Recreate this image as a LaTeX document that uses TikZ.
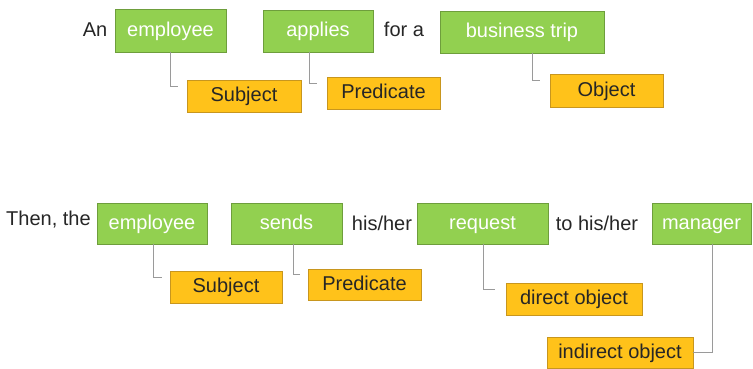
\documentclass[tikz,border=0pt]{standalone}
\usepackage{fontspec}
\setmainfont{Liberation Sans}
\usetikzlibrary{shadows}
\definecolor{gfill}{HTML}{92D050}
\definecolor{gline}{HTML}{6E9E3C}
\definecolor{ofill}{HTML}{FFC21A}
\definecolor{oline}{HTML}{C8961E}
\definecolor{cline}{HTML}{9A9A9A}
\begin{document}
\begin{tikzpicture}[x=1pt,y=-1pt,
  box/.style={draw, line width=0.8pt, inner sep=0pt, font=\fontsize{20}{24}\selectfont,
    text height=13pt, text depth=1.5pt,
    drop shadow={shadow xshift=1.2pt, shadow yshift=-1.2pt, opacity=0.25}},
  gbox/.style={box, fill=gfill, draw=gline, text=white},
  obox/.style={box, fill=ofill, draw=oline, text=black!85},
  word/.style={inner sep=0pt, font=\fontsize{20}{24}\selectfont, text=black!85,
    text height=13pt, text depth=1.5pt},
  conn/.style={draw=cline, line width=0.9pt}]
\useasboundingbox (0,0) rectangle (753,369);
% top row
\node[word] (an) at (95,31) {An};
\node[gbox, minimum width=111pt, minimum height=43pt] (e1) at (170.5,30.5) {employee};
\node[gbox, minimum width=110pt, minimum height=42pt] (a1) at (318,31) {applies};
\node[word] (fora) at (404,31) {for a};
\node[gbox, minimum width=164pt, minimum height=42pt] (bt) at (522,32) {business trip};
\node[obox, minimum width=114pt, minimum height=32pt] (s1) at (244,96) {Subject};
\node[obox, minimum width=113pt, minimum height=32pt] (p1) at (383.5,93) {Predicate};
\node[obox, minimum width=113pt, minimum height=33pt] (o1) at (606.5,90.5) {Object};
\coordinate (c1) at (178,86);
\coordinate (c2) at (317,83);
\coordinate (c3) at (540,80);
\draw[conn] ([xshift=-0.5pt]e1.south) |- (c1);
\draw[conn] ([xshift=-9pt]a1.south) |- (c2);
\draw[conn] ([xshift=10pt]bt.south) |- (c3);
% bottom row
\node[word] (then) at (48.5,220) {Then, the};
\node[gbox, minimum width=110pt, minimum height=41pt] (e2) at (152,223.5) {employee};
\node[gbox, minimum width=111pt, minimum height=41pt] (se) at (286.5,223.5) {sends};
\node[word] (hh) at (382,225) {his/her};
\node[gbox, minimum width=131pt, minimum height=41pt] (rq) at (482.5,223.5) {request};
\node[word] (thh) at (597,225) {to his/her};
\node[gbox, minimum width=99pt, minimum height=41pt] (mg) at (701.5,223.5) {manager};
\node[obox, minimum width=112pt, minimum height=32pt] (s2) at (226,287) {Subject};
\node[obox, minimum width=113pt, minimum height=31pt] (p2) at (364.5,284.5) {Predicate};
\node[obox, minimum width=136pt, minimum height=32pt] (do) at (574,299) {direct object};
\node[obox, minimum width=146pt, minimum height=31pt] (io) at (620,352.5) {indirect object};
\coordinate (c4) at (162,277);
\coordinate (c5) at (300,274);
\coordinate (c6) at (495,289);
\draw[conn] ([xshift=1pt]e2.south) |- (c4);
\draw[conn] ([xshift=6.5pt]se.south) |- (c5);
\draw[conn] ([xshift=0.5pt]rq.south) |- (c6);
\draw[conn] ([xshift=10.5pt]mg.south) |- (io.east);
\end{tikzpicture}
\end{document}
